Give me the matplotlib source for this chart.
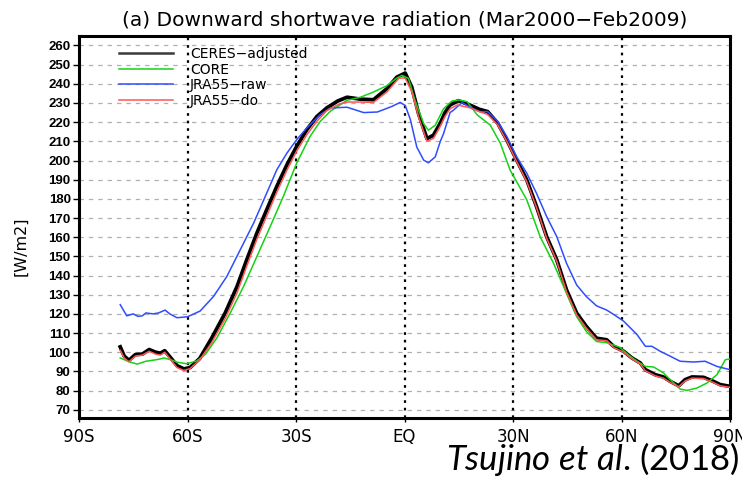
import matplotlib
matplotlib.use("Agg")
import matplotlib.pyplot as plt
import numpy as np
from matplotlib.lines import Line2D

# ---------------- data ----------------
lat_ceres = [-78.6, -77.5, -76.2, -74.4, -72.5, -70.6, -68.8, -67.5, -66.3, -64.6, -62.9, -61.0, -59.3,
             -56.6, -53.3, -49.6, -46.3, -43.6, -40.8, -38.1, -35.3, -32.5, -29.8, -27.0, -24.2, -21.5,
             -18.5, -15.9, -12.2, -8.6, -4.9, -2.1, 0.2, 2.0, 3.9, 6.2, 8.0, 9.9, 11.2, 12.6, 14.9, 18.0,
             20.7, 23.0, 25.8, 28.3, 31.0, 33.8, 36.5, 39.3, 42.1, 44.8, 47.6, 50.3, 53.1, 55.9, 57.8,
             60.6, 62.9, 65.2, 66.6, 69.3, 71.6, 73.5, 75.8, 77.6, 79.5, 82.7, 85.4, 87.3, 90.0]
ceres = [102.8, 98, 95.8, 98.8, 99, 101.4, 100, 99.5, 100.8, 97, 93, 91.3, 92,
         96.8, 107.4, 120.4, 134.3, 148.3, 162.2, 174.3, 186.5, 197.8, 207.4, 216.1, 223, 227.4,
         231, 233, 232, 231.7, 237.4, 243.5, 245.6, 238.3, 224.4, 211.4, 213.2, 219.5, 225, 229, 231.2, 229,
         226.7, 225.5, 219.4, 210.7, 200.3, 189.9, 176, 160.3, 148.2, 132.5, 120.4, 113.4, 107.3, 106.5, 103.1,
         100.5, 97, 94.4, 90.9, 88.3, 87.1, 84.8, 82.5, 85.7, 87.1, 86.9, 84.8, 83.1, 82.2]

lat_core = [-78.6, -75.8, -73.9, -71.5, -68.3, -66.5, -64.5, -62.9, -60.2, -57.4, -55.0, -51.9, -48.2,
            -44.5, -40.8, -37.1, -33.5, -29.8, -26.1, -23.3, -20.5, -15.9, -12.2, -8.6, -4.9, -2.1, -0.7,
            1.1, 2.9, 5.3, 6.6, 8.5, 10.8, 13.1, 15.0, 17.3, 20.1, 23.7, 26.5, 29.2, 31.0, 33.8, 37.5,
            41.2, 44.8, 47.6, 50.3, 53.1, 55.9, 59.5, 62.0, 64.3, 66.6, 68.9, 71.6, 73.5, 76.2, 78.1,
            80.8, 83.6, 86.4, 88.7, 90.0]
core = [97, 94.8, 93.8, 95.3, 96.2, 97, 96, 94.8, 94, 95.5, 99, 107.4, 120.4,
        134.3, 150, 165.7, 181.3, 198.7, 212.6, 220.4, 225.7, 231.4, 233, 235.7, 239, 243, 244.4,
        242.8, 231.4, 219.2, 215.8, 218.4, 227, 231, 231.6, 230.7, 223.8, 218.5, 209, 195, 189, 179.5, 160.3,
        146.4, 130.8, 118.6, 110.8, 105.6, 105, 102.6, 98.5, 95.3, 92.6, 92.3, 89.2, 85.7, 80.8, 80.1,
        81.3, 83.9, 88.3, 96.1, 96.5]

lat_raw = [-78.6, -76.8, -75.0, -73.7, -72.5, -71.5, -69.5, -68.0, -66.2, -64.9, -62.9, -60.0, -56.5,
           -52.8, -49.1, -45.4, -41.7, -38.1, -35.3, -32.5, -29.8, -27.0, -23.3, -20.5, -15.9, -11.3,
           -7.5, -3.5, -1.2, 0.2, 1.6, 3.4, 5.3, 6.6, 8.5, 9.9, 10.8, 12.6, 13.5, 15.9, 18.0, 20.7,
           23.0, 25.8, 28.3, 31.0, 33.8, 36.5, 39.3, 42.1, 44.8, 47.6, 50.3, 53.1, 55.9, 58.0, 60.6,
           64.3, 66.6, 68.4, 70.7, 73.5, 76.2, 79.9, 83.1, 86.4, 90.0]
jra_raw = [124.8, 119, 120, 118.7, 119, 120.5, 120, 120.5, 122, 120, 118, 118.5, 121.5,
           129.1, 139.6, 153.5, 167.4, 183, 195.2, 203.9, 210.9, 217, 223.9, 227.4, 227.8, 225,
           225.3, 228.2, 230.3, 228.7, 221.5, 207, 200.2, 198.8, 201.9, 210, 214, 225, 226.2, 230.2, 228, 225.5,
           225.5, 220.3, 212.5, 202, 193.4, 182.9, 170.8, 160.3, 146.4, 135.1, 129, 124.2, 122, 119.5, 116.2,
           109.2, 103.1, 103.1, 100.5, 97.9, 95.3, 94.9, 95.3, 92.6, 90.9]

lat_do = [-78.6, -77.5, -76.2, -74.4, -72.5, -70.6, -68.8, -67.5, -66.3, -64.6, -62.9, -61.0, -59.3,
          -56.6, -53.3, -49.6, -46.3, -43.6, -40.8, -38.1, -35.3, -32.5, -29.8, -27.0, -24.2, -21.5,
          -18.0, -15.9, -12.2, -8.6, -4.9, -1.5, 0.2, 2.0, 3.9, 6.2, 8.0, 9.9, 11.2, 12.6, 14.6, 18.0,
          20.7, 23.0, 25.8, 28.3, 31.0, 33.8, 36.5, 39.3, 42.1, 44.8, 47.6, 50.3, 53.1, 55.9, 57.8,
          60.6, 62.9, 65.2, 66.6, 69.3, 71.6, 73.5, 75.8, 77.6, 79.5, 82.7, 85.4, 87.3, 90.0]
jra_do = [101, 97, 95, 98, 98.5, 100.5, 99, 98.5, 100, 96, 92, 90.5, 91.5,
          96, 105, 117.5, 131, 145, 159, 171, 183.5, 195, 205, 213.5, 220.5, 226,
          229.5, 230.5, 230.5, 230.3, 235.7, 243, 243, 236, 222.7, 210, 211.5, 218, 223, 227, 229, 227.5,
          225.5, 224, 218.5, 210, 199.5, 189, 175.5, 159.5, 147.5, 131.5, 119.5, 112.5, 106.5, 106, 102.5,
          100, 96.5, 93.8, 90.3, 87.7, 86.5, 84.2, 82, 85, 86.5, 86.3, 84.2, 82.5, 81.7]

series_names = ["CERES\u2212adjusted", "CORE", "JRA55\u2212raw", "JRA55\u2212do"]
xtick_vals = [-90, -60, -30, 0, 30, 60, 90]
xtick_labels = ["90S", "60S", "30S", "EQ", "30N", "60N", "90N"]
ytick_vals = list(range(70, 261, 10))

# ---------------- figure ----------------
plt.rcParams['mathtext.fontset'] = 'custom'
plt.rcParams['mathtext.it'] = 'Lato:italic'
plt.rcParams['mathtext.rm'] = 'Lato'

fig = plt.figure(figsize=(7.42, 4.79), dpi=100)
ax = fig.add_axes([79 / 742, 61 / 479, 651 / 742, 382.3 / 479])

thin_font = "DejaVu Sans"
c_core, c_raw, c_do = "#14d214", "#2f4cff", "#ff5555"

# grid
for v in ytick_vals:
    ax.axhline(v, color="#b0b0b0", lw=0.9, ls=(0, (3.5, 4)), zorder=1)
for xv in xtick_vals[1:-1]:
    ax.axvline(xv, color="black", lw=1.6, ls=(0, (1.2, 2.2)), zorder=1)

ax.plot(lat_ceres, ceres, color="black", lw=2.7, zorder=3, solid_joinstyle="round")
ax.plot(lat_core, core, color=c_core, lw=1.1, zorder=4)
ax.plot(lat_raw, jra_raw, color=c_raw, lw=1.1, zorder=4)
ax.plot(lat_do, jra_do, color=c_do, lw=1.1, zorder=4)

handles = [Line2D([], [], color="#3a3a3a", lw=1.8),
           Line2D([], [], color=c_core, lw=1.1),
           Line2D([], [], color=c_raw, lw=1.1),
           Line2D([], [], color=c_do, lw=1.1)]
ax.legend(handles, series_names, loc="upper left", bbox_to_anchor=(0.053, 0.985),
          frameon=False, handlelength=3.9, handletextpad=1.2, labelspacing=0.12,
          borderaxespad=0, prop={"family": thin_font, "size": 10})

ax.set_xlim(-90, 90)
ax.set_ylim(65.7, 265.1)
ax.set_xticks(xtick_vals)
ax.set_xticklabels(xtick_labels, family=thin_font, fontsize=12)
ax.set_yticks(ytick_vals)
ax.set_yticklabels([str(v) for v in ytick_vals], family="Liberation Sans", fontweight="bold",
                   fontsize=9.5)
ax.tick_params(axis="y", direction="out", length=4, width=1, pad=2, colors="black")
ax.tick_params(axis="x", direction="out", length=3, width=1, pad=4)
for s in ax.spines.values():
    s.set_linewidth(2.2)

ax.set_ylabel("[W/m2]", family=thin_font, fontsize=11.5)
ax.yaxis.set_label_coords(-0.078, 0.45)
ax.set_title("(a) Downward shortwave radiation (Mar2000\u2212Feb2009)", family=thin_font,
             fontsize=14.5, pad=7)

fig.text(739 / 742, 1 / 479, r"$\mathit{Tsujino\ et\ al}$. (2018)", family="Lato",
         fontsize=25, ha="right", va="bottom")

fig.savefig("out.png", dpi=100)
